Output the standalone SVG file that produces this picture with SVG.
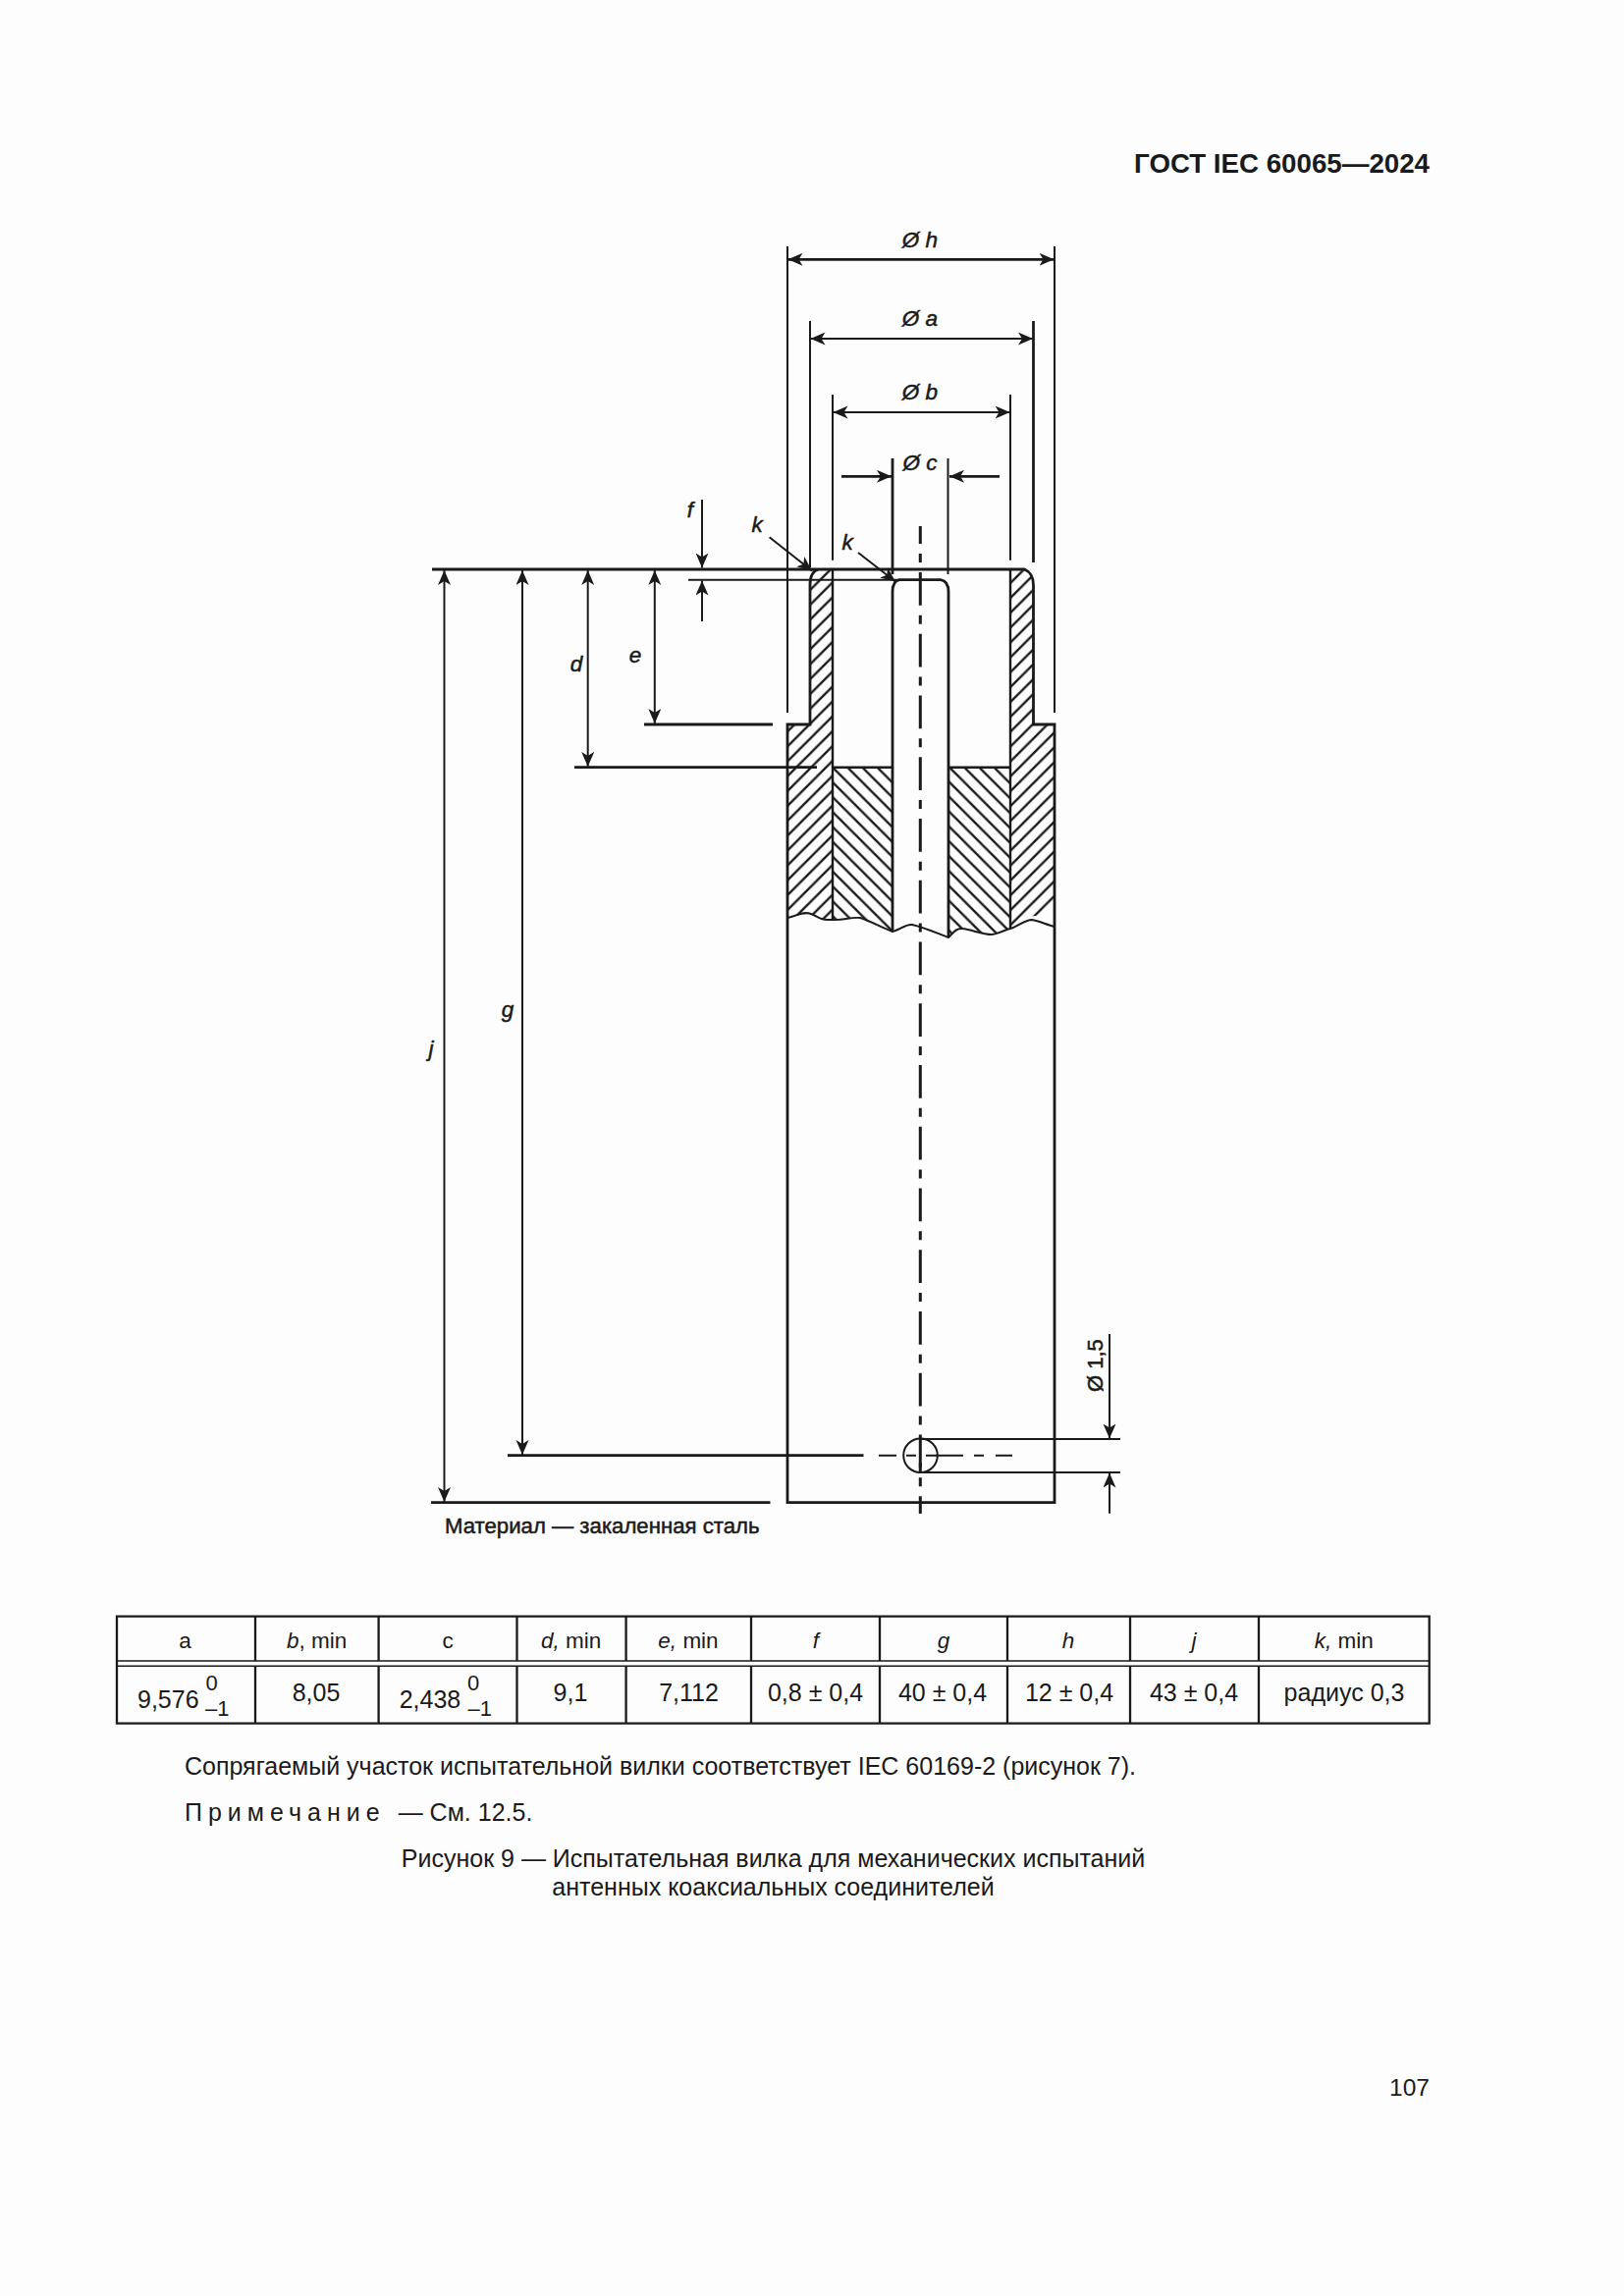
<svg xmlns="http://www.w3.org/2000/svg" width="1654" height="2339" viewBox="0 0 1654 2339">
<style>
text{font-family:"Liberation Sans",Arial,sans-serif;fill:#1a1a1a}
.t{font-size:25px}.h{font-size:22.5px}.m{text-anchor:middle}.s{font-size:22px}
.i{font-style:italic}
.l{font-size:22.5px;font-style:italic;stroke:#1a1a1a;stroke-width:.5}
.ln{fill:none;stroke:#1a1a1a;stroke-width:2}
.th{fill:none;stroke:#1a1a1a;stroke-width:2.8}
.ar{marker-start:url(#ah);marker-end:url(#ah)}
.ae{marker-end:url(#ah)}
.tb{fill:none;stroke:#1a1a1a;stroke-width:2.3}
</style>
<defs>
<marker id="ah" markerUnits="userSpaceOnUse" markerWidth="16" markerHeight="14" refX="15" refY="6.5" orient="auto-start-reverse"><path d="M15,6.5 L0,0 L4,6.5 L0,13 Z" fill="#1a1a1a"/></marker>
<pattern id="hf" patternUnits="userSpaceOnUse" width="15.15" height="15.15" patternTransform="translate(2,0)"><path d="M-1,16.15 L16.15,-1 M-1,1 L1,-1 M14.15,16.15 L16.15,14.15" stroke="#1a1a1a" stroke-width="2.4"/></pattern>
<pattern id="hb" patternUnits="userSpaceOnUse" width="15.15" height="15.15" patternTransform="translate(5.7,0)"><path d="M-1,-1 L16.15,16.15 M14.15,-1 L16.15,1 M-1,14.15 L1,16.15" stroke="#1a1a1a" stroke-width="2.4"/></pattern>
<pattern id="hc" patternUnits="userSpaceOnUse" width="15.15" height="15.15" patternTransform="translate(3.5,0)"><path d="M-1,-1 L16.15,16.15 M14.15,-1 L16.15,1 M-1,14.15 L1,16.15" stroke="#1a1a1a" stroke-width="2.4"/></pattern>
</defs>
<rect width="1654" height="2339" fill="#fdfdfd"/>
<text id="page-header" x="1456" y="176" text-anchor="end" font-weight="bold" font-size="27.7">ГОСТ IEC 60065—2024</text>
<g id="hatching">
<path fill="url(#hf)" d="M802,738 L825,738 L825,596 Q825,582 834,580 L848,580 L848,937 L844,937 C836,938 832,933 826,931 C818,928 812,933 802,935 Z"/>
<path fill="url(#hb)" d="M848,781.7 L909,781.7 L909,949 C898,945 886,938 876,935 C866,934 858,938 848,937 Z"/>
<path fill="url(#hc)" d="M966,781.7 L1029,781.7 L1029,946 C1024,947 1018,951 1010,952 C1000,952 990,947 980,946 C973,945 970,952 966,955 Z"/>
<path fill="url(#hf)" d="M1029,580 L1043.6,580 Q1052.5,584 1052.5,596 L1052.5,738 L1074,738 L1074,925 L1056,933 L1040,934 L1029,946 Z"/>
</g>
<g id="body">
<path class="th" d="M440,580 H1043.6 Q1052.5,584 1052.5,596 V738 H1074 V1530.7 H802 V738 H825 V596 Q825,582 834,580"/>
<path class="ln" d="M848,580 V937 M1029,580 V946 M848,781.7 H909 M966,781.7 H1029" style="stroke-width:2.4"/>
<path class="th" d="M909,467 V585 M909,949 V603 Q909,592 916,590.7 H958 Q966,592 966,603 V955"/>
<path class="ln" d="M802,935 C812,933 818,928 826,931 C832,933 836,938 844,937 L848,937 C858,938 866,934 876,935 C886,938 898,945 909,949 C916,948 922,941 929,942 C942,945 955,951 966,955 C970,952 973,945 980,946 C990,947 1000,952 1010,952 C1018,951 1024,947 1029,946 C1036,944 1044,937 1051,937 C1058,938 1066,942 1074,944"/>
<path class="ln" d="M937.3,536 V1542" stroke-dasharray="33.75 10 9 10" stroke-dashoffset="15.75" style="stroke-width:3"/>
<path class="ln" d="M937.3,1490 V1500.6" style="stroke-width:3"/>
<circle class="ln" cx="937.5" cy="1482.7" r="17.3"/>
<path class="ln" d="M895,1482.7 H913 M923,1482.7 H933 M943,1482.7 H981 M992,1482.7 H1002 M1014,1482.7 H1031"/>
</g>
<g id="connectors">
<path class="ln" d="M802,251 V726 M1074,251 V726 M825,327 V578 M848,402 V570.7 M1029,402 V570.7 M965.5,467 V585"/>
<path class="th" d="M1052.5,327 V573"/>
<line class="th ar" x1="802.5" y1="264.3" x2="1073.5" y2="264.3"/>
<line class="ln ar" x1="825.5" y1="345" x2="1052" y2="345"/>
<line class="ln ar" x1="848.5" y1="420" x2="1028.5" y2="420"/>
<line class="th ae" x1="857" y1="485.3" x2="908" y2="485.3"/>
<line class="th ae" x1="1018" y1="485.3" x2="967" y2="485.3"/>
<line class="ln ae" x1="715" y1="509" x2="715" y2="578.5"/>
<line class="ln ae" x1="715" y1="633" x2="715" y2="591.5"/>
<path class="ln" d="M701,590.7 H916"/>
<line class="ln ar" x1="452.5" y1="581" x2="452.5" y2="1530"/>
<line class="ln ar" x1="532" y1="581" x2="532" y2="1482"/>
<line class="ln ar" x1="598.7" y1="581" x2="598.7" y2="781"/>
<line class="ln ar" x1="666.8" y1="581" x2="666.8" y2="737"/>
<path class="th" d="M656,738 H787 M585,781.7 H832 M439,1530.7 H784.5 M517,1482.7 H879.5"/>
<line class="ln ae" x1="783.6" y1="547.3" x2="827" y2="581.5"/>
<line class="ln ae" x1="874" y1="563" x2="912" y2="592.5"/>
<path class="ln" d="M937,1466 H1141 M937,1500 H1141"/>
<line class="ln ae" x1="1130" y1="1359" x2="1130" y2="1465.5"/>
<line class="ln ae" x1="1130" y1="1541.7" x2="1130" y2="1500.5"/>
</g>
<g id="dimension-labels">
<text class="l m" x="937" y="252">Ø h</text>
<text class="l m" x="937" y="332">Ø a</text>
<text class="l m" x="937" y="407">Ø b</text>
<text class="l m" x="937" y="479">Ø c</text>
<text class="l m" x="703" y="527">f</text>
<text class="l m" x="771" y="542">k</text>
<text class="l m" x="863" y="560">k</text>
<text class="l m" x="587" y="684">d</text>
<text class="l m" x="647" y="675">e</text>
<text class="l m" x="517" y="1036">g</text>
<text class="l m" x="439" y="1076">j</text>
<text class="l" style="font-style:normal;font-size:22px" transform="translate(1123.3,1418) rotate(-90)">Ø 1,5</text>
<text x="453" y="1561.7" font-size="22.2" stroke="#1a1a1a" stroke-width=".5">Материал — закаленная сталь</text>
</g>
<g id="table">
<path class="tb" d="M119,1646.7 H1455.7 V1755.7 H119 Z M260,1646.7 V1692 M385.6,1646.7 V1692 M526.5,1646.7 V1692 M637.6,1646.7 V1692 M765,1646.7 V1692 M896,1646.7 V1692 M1026,1646.7 V1692 M1151,1646.7 V1692 M1282,1646.7 V1692 M260,1697.3 V1755.7 M385.6,1697.3 V1755.7 M526.5,1697.3 V1755.7 M637.6,1697.3 V1755.7 M765,1697.3 V1755.7 M896,1697.3 V1755.7 M1026,1697.3 V1755.7 M1151,1697.3 V1755.7 M1282,1697.3 V1755.7"/>
<path class="ln" d="M119,1692 H1455.7 M119,1697.3 H1455.7" style="stroke-width:1.5"/>
<text class="h m" x="188.6" y="1679">a</text>
<text class="h m" x="322.7" y="1679"><tspan class="i">b</tspan>, min</text>
<text class="h m" x="456" y="1679">c</text>
<text class="h m" x="581.6" y="1679"><tspan class="i">d,</tspan> min</text>
<text class="h m" x="701" y="1679"><tspan class="i">e,</tspan> min</text>
<text class="h m i" x="831" y="1679">f</text>
<text class="h m i" x="961" y="1679">g</text>
<text class="h m i" x="1088" y="1679">h</text>
<text class="h m i" x="1216" y="1679">j</text>
<text class="h m" x="1368.7" y="1679"><tspan class="i">k,</tspan> min</text>
<text class="t" x="140" y="1740">9,576</text>
<text class="s m" x="215.7" y="1721.7">0</text>
<text class="s" x="209" y="1748">–1</text>
<text class="t m" x="322" y="1733">8,05</text>
<text class="t" x="406.7" y="1740">2,438</text>
<text class="s m" x="482" y="1721.7">0</text>
<text class="s" x="476.5" y="1748">–1</text>
<text class="t m" x="581" y="1733">9,1</text>
<text class="t m" x="701.5" y="1733">7,112</text>
<text class="t m" x="830.5" y="1733">0,8 ± 0,4</text>
<text class="t m" x="960" y="1733">40 ± 0,4</text>
<text class="t m" x="1089" y="1733">12 ± 0,4</text>
<text class="t m" x="1216" y="1733">43 ± 0,4</text>
<text class="t m" x="1369" y="1733">радиус 0,3</text>
</g>
<g id="captions">
<text class="t" x="188" y="1808">Сопрягаемый участок испытательной вилки соответствует IEC 60169-2 (рисунок 7).</text>
<text class="t" x="188" y="1854.5"><tspan letter-spacing="6">Примечание</tspan><tspan dx="6"> — См. 12.5.</tspan></text>
<text class="t m" x="787.5" y="1901.5">Рисунок 9 — Испытательная вилка для механических испытаний</text>
<text class="t m" x="787.5" y="1931">антенных коаксиальных соединителей</text>
<text class="t" style="font-size:24.5px" x="1456" y="2135" text-anchor="end">107</text>
</g>
</svg>
